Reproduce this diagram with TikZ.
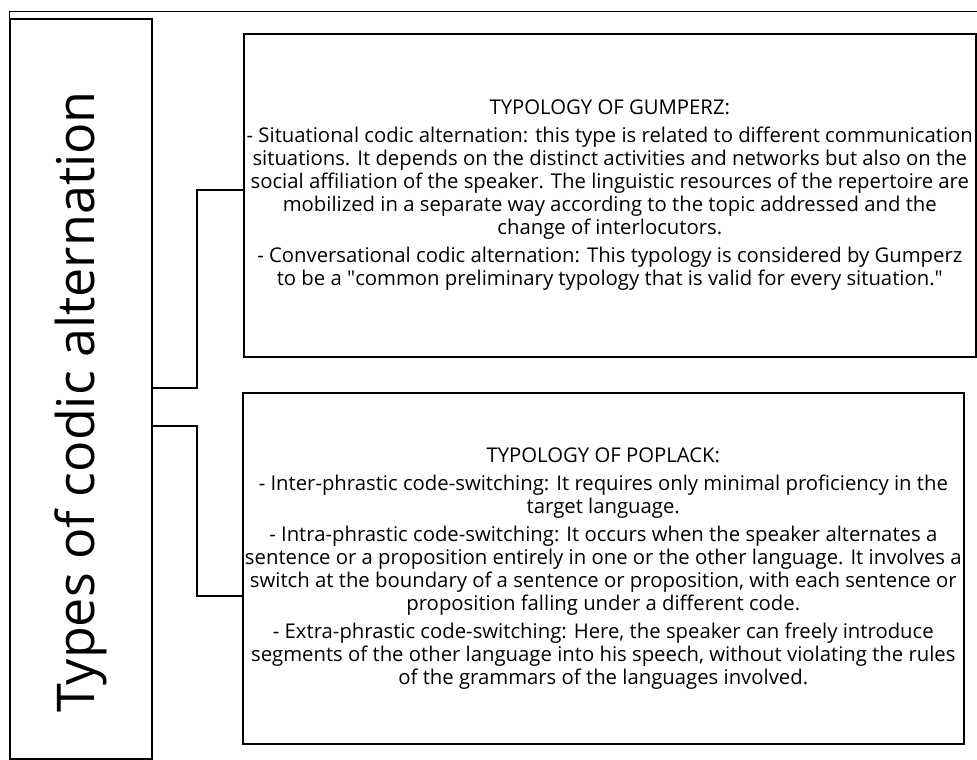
\documentclass[tikz,border=0pt]{standalone}
\usepackage{fontspec}
\setmainfont{Open Sans}
\usetikzlibrary{positioning}

\begin{document}
\begin{tikzpicture}[
  x=1pt, y=-1pt,
  panel/.style={rectangle, draw=black, line width=1.6pt, inner sep=0pt,
                anchor=north west, align=center,
                font=\fontsize{20.3}{23}\selectfont},
  typebox/.style={rectangle, draw=black, line width=1.6pt, inner sep=0pt,
                  anchor=north west, minimum width=142pt, minimum height=740pt},
  link/.style={draw=black, line width=1.3pt},
  bigtext/.style={rotate=90, font=\fontsize{52}{60}\selectfont}
]
\useasboundingbox (0,0) rectangle (977,760);

% frame line along the top
\draw[line width=0.8pt] (9,18) -- (9,11) -- (977,11);

\node[typebox] (types) at (9,18) {};
\node[bigtext] (typestext) at (types.center |- 0,402) {Types of codic alternation};

\node[panel, minimum width=732pt, minimum height=323pt] (gumperz) at (243,33)
  {TYPOLOGY OF GUMPERZ:\\[5pt]
   - Situational codic alternation: this type is related to different communication\\
   situations. It depends on the distinct activities and networks but also on the\\
   social affiliation of the speaker. The linguistic resources of the repertoire are\\
   mobilized in a separate way according to the topic addressed and the\\
   change of interlocutors.\\[5pt]
   - Conversational codic alternation: This typology is considered by Gumperz\\
   to be a \textquotedbl common preliminary typology that is valid for every situation.\textquotedbl};

\node[panel, minimum width=721pt, minimum height=351pt] (poplack) at (242,392)
  {TYPOLOGY OF POPLACK:\\[5pt]
   - Inter-phrastic code-switching: It requires only minimal proficiency in the\\
   target language.\\[5pt]
   - Intra-phrastic code-switching: It occurs when the speaker alternates a\\
   sentence or a proposition entirely in one or the other language. It involves a\\
   switch at the boundary of a sentence or proposition, with each sentence or\\
   proposition falling under a different code.\\[5pt]
   - Extra-phrastic code-switching: Here, the speaker can freely introduce\\
   segments of the other language into his speech, without violating the rules\\
   of the grammars of the languages involved.};

% elbow connectors
\coordinate (hub) at (197,0);
\draw[link] (types.east |- 0,388) -- (hub |- 0,388) |- (gumperz.west |- 0,190);
\draw[link] (types.east |- 0,426) -- (hub |- 0,426) |- (poplack.west |- 0,596);

\end{tikzpicture}
\end{document}
